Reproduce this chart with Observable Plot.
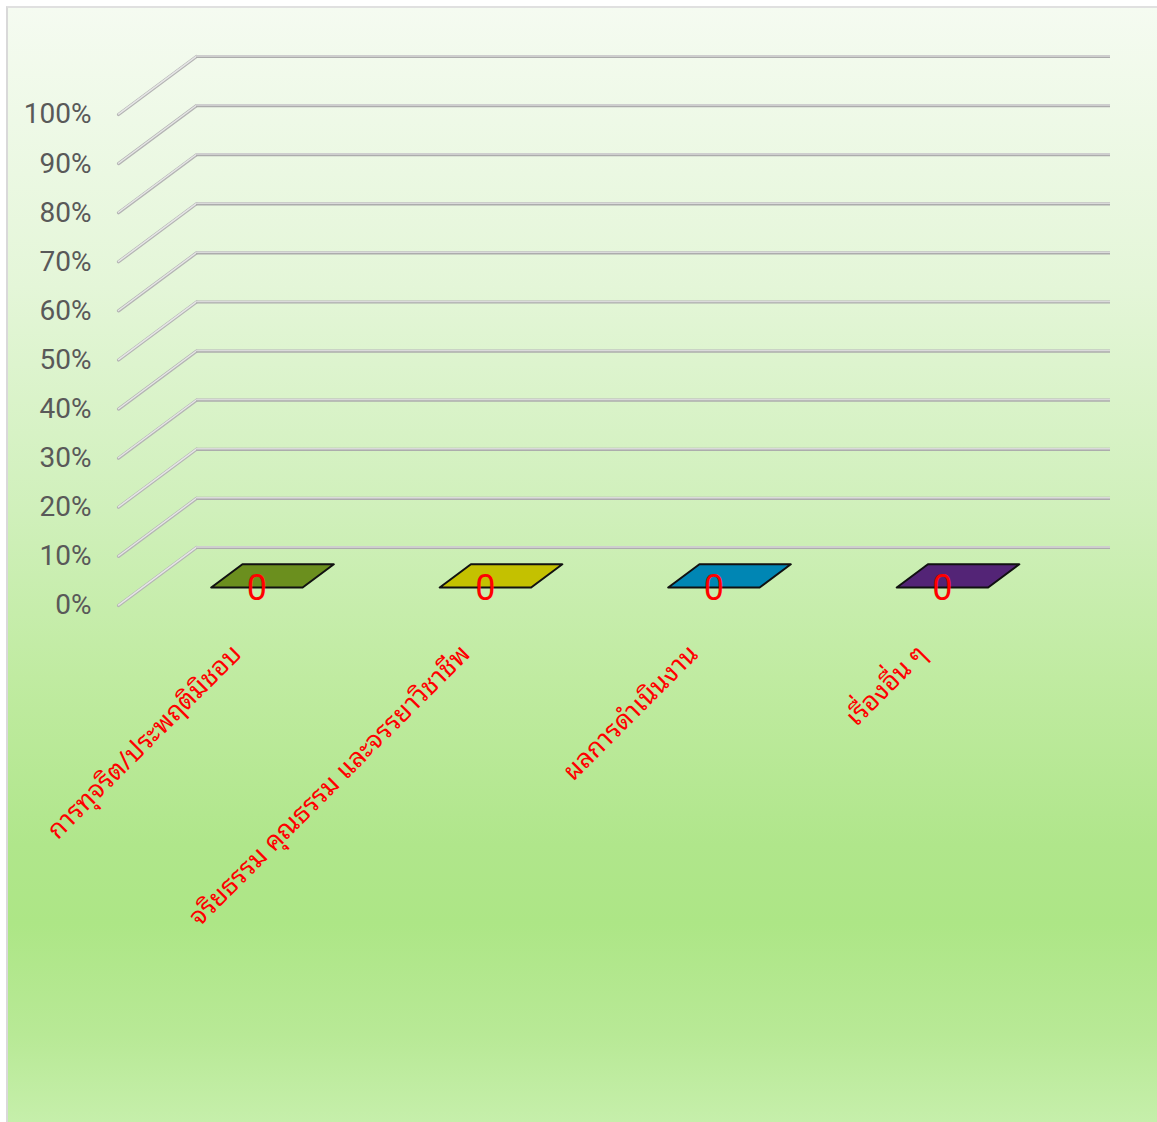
<!DOCTYPE html>
<html>
<head>
<meta charset="utf-8">
<script src="https://cdn.jsdelivr.net/npm/d3@7"></script>
<script src="https://cdn.jsdelivr.net/npm/@observablehq/plot@0.6"></script>
<style>
  html, body { margin: 0; padding: 0; background: #ffffff; overflow: hidden; }
  #frame {
    position: absolute; left: 6px; top: 6px; width: 1151px; height: 1116px;
    border-left: 2px solid #d9d9d9; border-top: 2px solid #e0e0e0;
    background: linear-gradient(to bottom, #f5fbf1 0%, #e4f6d8 25%, #d0f0bb 45%, #c0eba1 60%, #b0e68b 75%, #ade686 82%, #b8e996 92%, #c6efab 100%);
  }
  #chart { position: absolute; left: -8px; top: -8px; width: 1157px; height: 1122px; }
  #chart svg { max-width: none !important; }
</style>
</head>
<body>
<div id="frame"><div id="chart"></div></div>
<script>
// ---- data ----
const categories = [
  "การทุจริต/ประพฤติมิชอบ",
  "จริยธรรม คุณธรรม และจรรยาวิชาชีพ",
  "ผลการดำเนินงาน",
  "เรื่องอื่น ๆ"
];
const values = [0, 0, 0, 0];
const barColors = ["#6b8f1e", "#c4c100", "#0086b4", "#532476"];
const tickValues = [0, 0.1, 0.2, 0.3, 0.4, 0.5, 0.6, 0.7, 0.8, 0.9, 1.0];
const tickLabels = ["0%", "10%", "20%", "30%", "40%", "50%", "60%", "70%", "80%", "90%", "100%"];

// ---- oblique 3D projection parameters (pixels) ----
const X0 = 118, X1 = 1032;     // front plane floor extent
const Y0 = 605, Y1 = 114;      // front plane 0% .. 100%
const DEPTH_PX_X = 78, DEPTH_PX_Y = 58;
const n = categories.length;
const pxPerU = (X1 - X0) / n;
const pxPerV = (Y0 - Y1) / 1;
const dU = DEPTH_PX_X / pxPerU;   // data offset per unit depth
const dV = DEPTH_PX_Y / pxPerV;
const proj = (u, v, t) => ({x: u + t * dU, y: v + t * dV});

const T0 = 0.31, T1 = 0.71, HALF = 0.2;

// ---- derived geometry ----
const grid = tickValues.map((v, i) => ({v, label: tickLabels[i]}));
const bars = categories.map((c, i) => ({cat: c, value: values[i], color: barColors[i], u: i + 0.5}));

const polys = [];
bars.forEach((b, i) => {
  const faces = [];
  if (b.value > 0) {
    faces.push([[b.u - HALF, 0, T0], [b.u + HALF, 0, T0], [b.u + HALF, b.value, T0], [b.u - HALF, b.value, T0]]);
    faces.push([[b.u + HALF, 0, T0], [b.u + HALF, 0, T1], [b.u + HALF, b.value, T1], [b.u + HALF, b.value, T0]]);
  }
  faces.push([[b.u - HALF, b.value, T0], [b.u + HALF, b.value, T0], [b.u + HALF, b.value, T1], [b.u - HALF, b.value, T1]]);
  faces.forEach((f, k) => {
    const pts = [...f, f[0]];
    pts.forEach(p => {
      const q = proj(p[0], p[1], p[2]);
      polys.push({id: `${i}-${k}`, x: q.x, y: q.y, color: b.color});
    });
  });
});

const thaiFont = "'Noto Sans Thai Looped', Loma, Garuda, Tahoma, 'Noto Sans Thai', 'Noto Sans', sans-serif";

const plot = Plot.plot({
  width: 1157,
  height: 1122,
  style: {background: "transparent", overflow: "visible", maxWidth: "none"},
  x: {type: "linear", domain: [0, n], range: [X0, X1], axis: null},
  y: {type: "linear", domain: [0, 1], range: [Y0, Y1], axis: null},
  color: {type: "identity"},
  marks: [
    // left wall diagonals
    Plot.link(grid, {x1: 0, y1: d => d.v, x2: dU, y2: d => d.v + dV, stroke: "#b4b4b4", strokeWidth: 3.2, strokeLinecap: "round"}),
    Plot.link(grid, {x1: 0, y1: d => d.v, x2: dU, y2: d => d.v + dV, stroke: "#e6e6e6", strokeWidth: 1.4, dy: -0.4, strokeLinecap: "round"}),
    // back wall horizontals
    Plot.ruleY(grid, {y: d => d.v + dV, x1: dU, x2: n + dU, stroke: "#acacac", strokeWidth: 3.2}),
    Plot.ruleY(grid, {y: d => d.v + dV, x1: dU, x2: n + dU, stroke: "#dadada", strokeWidth: 1.5, dy: -0.6}),
    // tick labels
    Plot.text(grid, {x: 0, y: d => d.v, text: "label", textAnchor: "end", dx: -27, fill: "#595959", fontSize: 28, fontFamily: "Roboto, sans-serif"}),
    // bars
    Plot.line(polys, {x: "x", y: "y", z: "id", fill: "color", stroke: "#111", strokeWidth: 2, strokeLinejoin: "round"}),
    // value labels
    Plot.text(bars, {x: d => proj(d.u, d.value, T0).x, y: d => proj(d.u, d.value, T0).y, text: d => String(d.value), fill: "#ff0000", fontSize: 36, fontFamily: "Roboto, sans-serif", dy: 1}),
    // category labels
    Plot.text(bars, {x: d => proj(d.u, 0, T0).x, y: d => proj(d.u, 0, T0).y, text: "cat", rotate: -45, textAnchor: "end", dx: -20, dy: 62, fill: "#ff0000", fontSize: 26, fontFamily: thaiFont})
  ]
});
document.getElementById("chart").appendChild(plot);
</script>
</body>
</html>
